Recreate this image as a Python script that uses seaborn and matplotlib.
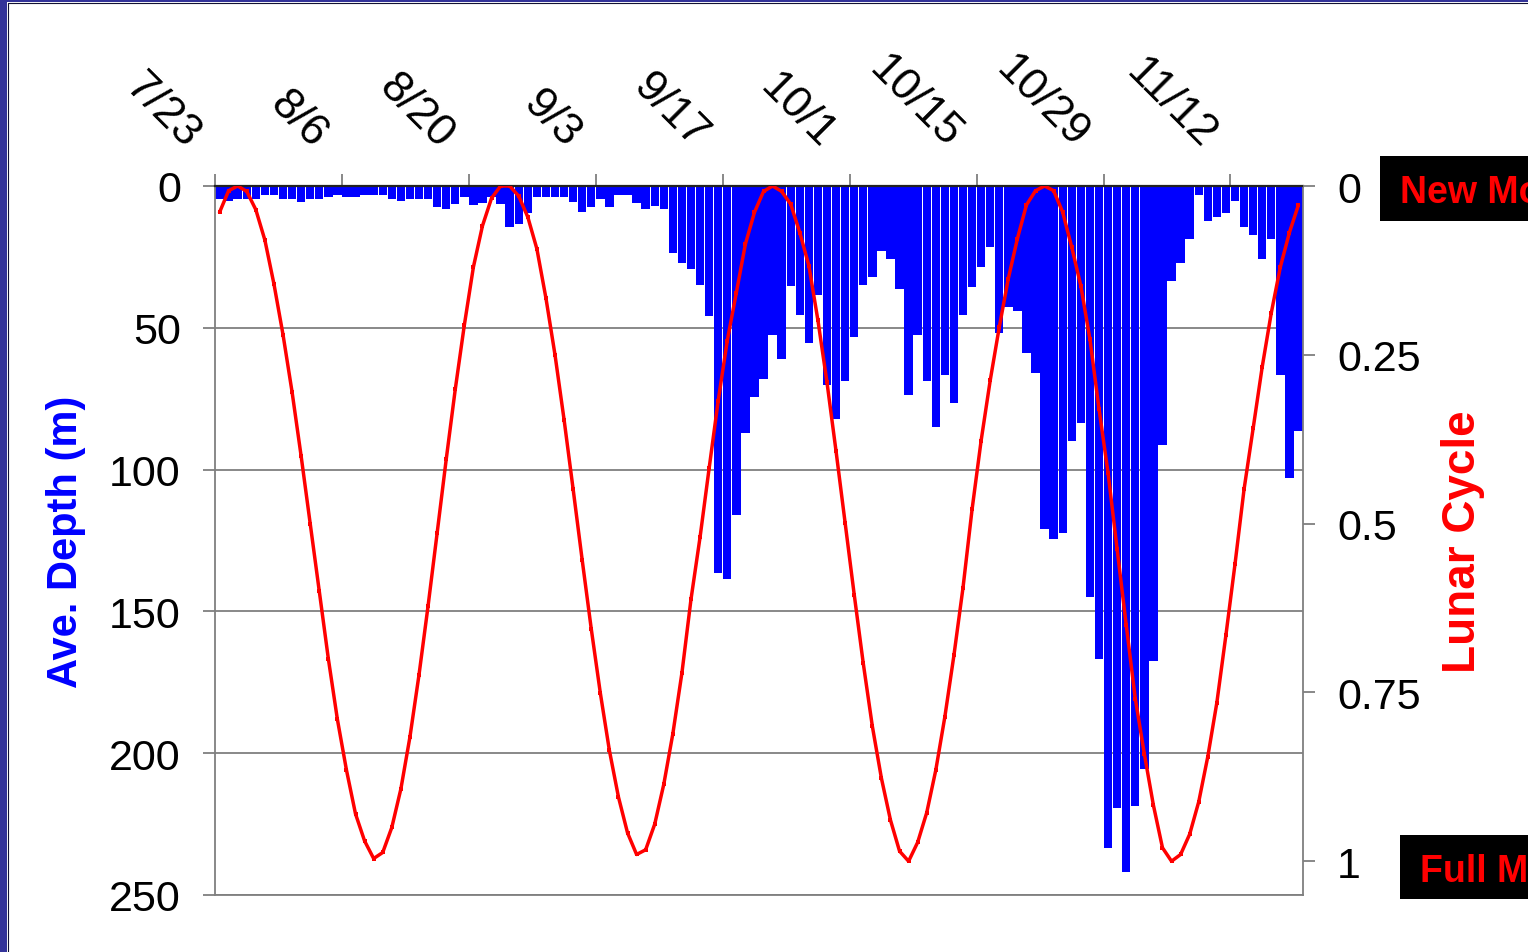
import numpy as np
import pandas as pd
import matplotlib
matplotlib.use("Agg")
import matplotlib.pyplot as plt
import seaborn as sns
from matplotlib.patches import Rectangle
from matplotlib.lines import Line2D
from matplotlib.transforms import ScaledTranslation

# ---------------- data ----------------
dates = pd.date_range("2006-07-23", periods=120, freq="D")
day_labels = [f"{d.month}/{d.day}" for d in dates]

depth = [4.6, 5.2, 4.6, 4.6, 4.6, 3.2, 3.2, 4.6, 4.6, 5.5,
         4.6, 4.6, 4.0, 3.2, 4.0, 4.0, 3.2, 3.2, 3.2, 4.6,
         5.2, 4.6, 4.6, 4.6, 7.5, 8.0, 6.3, 4.0, 6.7, 6.0,
         4.0, 6.5, 14.5, 13.5, 9.5, 4.0, 4.0, 4.0, 4.0, 5.5,
         9.0, 7.5, 4.6, 7.5, 3.2, 3.2, 6.1, 8.1, 6.9, 8.1,
         23.6, 27.3, 29.3, 35.0, 46.0, 136.6, 138.6, 116.0, 87.2, 74.5,
         68.2, 52.5, 61.0, 35.1, 45.5, 55.4, 38.5, 70.2, 82.2, 68.8,
         53.1, 34.9, 32.2, 22.9, 25.7, 36.3, 73.7, 52.4, 68.8, 85.1,
         66.6, 76.5, 45.5, 35.7, 28.7, 21.6, 51.8, 42.8, 44.2, 58.9,
         65.9, 120.9, 124.5, 122.4, 90.0, 83.7, 145.0, 166.8, 233.6, 219.3,
         241.9, 218.5, 205.6, 167.6, 91.2, 33.4, 27.2, 18.7, 3.2, 12.2,
         10.8, 9.5, 5.2, 14.6, 17.3, 25.7, 18.7, 66.6, 103.0, 86.5]

lunar = [0.039, 0.007, 0.0, 0.008, 0.035, 0.08, 0.145, 0.22, 0.305, 0.40,
         0.50, 0.60, 0.70, 0.79, 0.865, 0.93, 0.97, 0.996, 0.987, 0.95,
         0.893, 0.816, 0.724, 0.622, 0.514, 0.405, 0.301, 0.206, 0.12, 0.059,
         0.018, 0.0, 0.0, 0.015, 0.046, 0.093, 0.166, 0.25, 0.346, 0.449,
         0.554, 0.656, 0.751, 0.836, 0.905, 0.958, 0.99, 0.983, 0.945, 0.886,
         0.811, 0.721, 0.612, 0.52, 0.418, 0.318, 0.229, 0.158, 0.086, 0.039,
         0.008, 0.0, 0.008, 0.027, 0.069, 0.118, 0.199, 0.291, 0.393, 0.499,
         0.605, 0.707, 0.80, 0.877, 0.939, 0.985, 1.0, 0.972, 0.928, 0.865,
         0.786, 0.695, 0.595, 0.479, 0.377, 0.288, 0.209, 0.137, 0.078, 0.028,
         0.007, 0.0, 0.007, 0.039, 0.091, 0.148, 0.227, 0.330, 0.425, 0.538,
         0.650, 0.759, 0.841, 0.917, 0.98, 1.0, 0.99, 0.96, 0.912, 0.845,
         0.765, 0.665, 0.56, 0.449, 0.359, 0.268, 0.188, 0.12, 0.069, 0.028]

date_tick_labels = ["7/23", "8/6", "8/20", "9/3", "9/17", "10/1", "10/15", "10/29", "11/12"]
depth_ticks = [0, 50, 100, 150, 200, 250]
lunar_ticks = [0, 0.25, 0.5, 0.75, 1]
lunar_tick_labels = ["0", "0.25", "0.5", "0.75", "1"]

# ---------------- style ----------------
sns.set_theme(style="white")
plt.rcParams["font.family"] = ["Liberation Sans", "DejaVu Sans"]

W, H = 1528, 953
fig = plt.figure(figsize=(W / 100, H / 100), dpi=100)
fig.patch.set_facecolor("white")

ax = fig.add_axes([215 / W, 1 - 896 / H, 1088 / W, 709 / H])
df = pd.DataFrame({"day": day_labels, "depth": depth, "lunar": lunar})

sns.barplot(data=df, x="day", y="depth", color="#0000FF", saturation=1,
            width=0.92, ax=ax, linewidth=0, edgecolor="none")
ax.set_xlim(-0.5, len(day_labels) - 0.5)
ax.set_ylim(250, 0)
ax.set_yticks(depth_ticks)
ax.set_yticklabels([str(t) for t in depth_ticks])

ax.xaxis.tick_top()
ax.set_xticks([-0.5 + 14 * k for k in range(len(date_tick_labels))])
ax.set_xticklabels(date_tick_labels)
ax.set_xlabel("")

grey = "#7f7f7f"
ax.yaxis.grid(True, color=grey, linewidth=1.3)
ax.xaxis.grid(False)
ax.set_axisbelow(True)

ax.tick_params(axis="y", left=True, right=False, direction="out", length=8.6,
               width=1.3, color=grey, labelsize=31, pad=16, labelcolor="black")
ax.tick_params(axis="x", top=True, bottom=False, labeltop=True, labelbottom=False,
               direction="out", length=8.6, width=1.3, color=grey,
               labelsize=32, pad=24, labelcolor="black")

for lbl in ax.get_xticklabels():
    lbl.set_rotation(-45)
    lbl.set_rotation_mode("anchor")
    lbl.set_ha("right")
    lbl.set_va("center")
    lbl.set_transform(lbl.get_transform() + ScaledTranslation(-0.22, 0, fig.dpi_scale_trans))

for side in ["left", "right", "bottom"]:
    ax.spines[side].set_color(grey)
    ax.spines[side].set_linewidth(1.3)
ax.spines["top"].set_color("#222222")
ax.spines["top"].set_linewidth(1.6)

ax.set_ylabel("Ave. Depth (m)", color="#0000FF", fontsize=30, fontweight="bold")
ax.yaxis.set_label_coords((66 - 215) / 1088, 0.5)
ax.yaxis.label.set_va("center")

# ---------------- lunar line ----------------
ax2 = ax.twinx()
sns.lineplot(x=np.arange(len(lunar)), y=lunar, ax=ax2, color="#FF0000",
             linewidth=2.5, marker="s", markersize=3.2, markeredgewidth=0)
ax2.set_ylim(1.05, 0)
ax2.set_xlim(-0.5, len(day_labels) - 0.5)
ax2.set_yticks(lunar_ticks)
ax2.set_yticklabels(lunar_tick_labels)
ax2.tick_params(axis="y", right=True, left=False, direction="out", length=8.6,
                width=1.3, color=grey, labelsize=31, pad=16, labelcolor="black")
for side in ["left", "right", "bottom", "top"]:
    ax2.spines[side].set_visible(False)
ax2.set_ylabel("Lunar Cycle", color="#FF0000", fontsize=33, fontweight="bold")
ax2.yaxis.set_label_coords((1463 - 215) / 1088, 0.5)
ax2.yaxis.label.set_va("center")

# ---------------- legend-like boxes (cut by the slide edge, as in the reference) ----------------
fig.patches.append(Rectangle((1380 / W, 1 - 222 / H), 200 / W, 65 / H,
                             transform=fig.transFigure, facecolor="black",
                             edgecolor="none", zorder=5))
fig.text(1400 / W, 1 - 203 / H, "New Moon", color="#FF0000", fontsize=27,
         fontweight="bold", ha="left", va="baseline", zorder=6)
fig.patches.append(Rectangle((1400 / W, 1 - 900 / H), 200 / W, 64 / H,
                             transform=fig.transFigure, facecolor="black",
                             edgecolor="none", zorder=5))
fig.text(1420 / W, 1 - 882 / H, "Full Moon", color="#FF0000", fontsize=27,
         fontweight="bold", ha="left", va="baseline", zorder=6)

# ---------------- slide frame ----------------
navy = "#333399"
fig.patches.append(Rectangle((0, 0), 7 / W, 1, transform=fig.transFigure,
                             facecolor=navy, edgecolor="none", zorder=10))
fig.patches.append(Rectangle((0, 1 - 3 / H), 1, 3 / H, transform=fig.transFigure,
                             facecolor=navy, edgecolor="none", zorder=10))
fig.lines.append(Line2D([7.5 / W, 7.5 / W], [0, 1 - 3.5 / H], transform=fig.transFigure,
                        color="#111133", linewidth=0.8, zorder=11))
fig.lines.append(Line2D([7.5 / W, 1], [1 - 3.5 / H, 1 - 3.5 / H], transform=fig.transFigure,
                        color="#111133", linewidth=0.8, zorder=11))

fig.savefig("out.png", dpi=100)
